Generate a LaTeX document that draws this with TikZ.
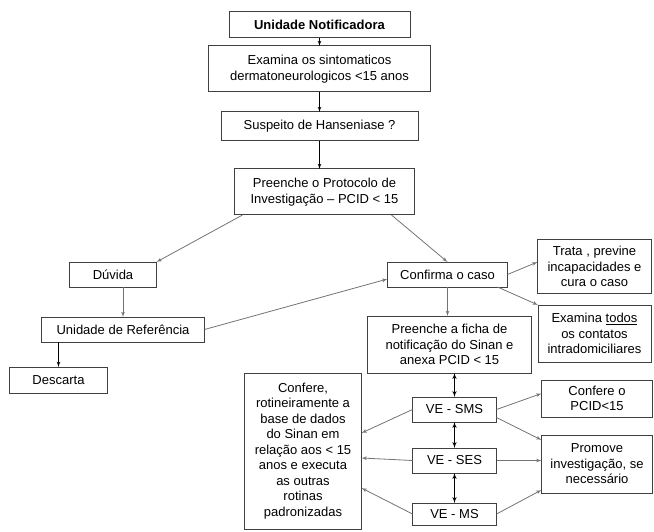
\documentclass[tikz,border=0pt]{standalone}
\usepackage{fontspec}
\setmainfont{Liberation Sans}
\usetikzlibrary{arrows, positioning}

\begin{document}
\begin{tikzpicture}[>=latex', font=\fontsize{13}{15.5}\selectfont]
		\tikzset{
			block/.style= {draw=black!75, line width=1pt, outer sep=0pt, rectangle, fill=white, align=center, inner sep=2pt},
			arr/.style  = {draw=black, line width=0.8pt, ->},
			link/.style = {draw=black!55, line width=0.8pt, ->},
			dlink/.style = {draw=black, line width=1pt, <->},
		}
		\useasboundingbox (0,0) rectangle (654pt,-532pt);

		%nodes
		\node (n1) [block, minimum width=181pt, minimum height=26pt] at (319.5pt,-25pt)
					{\textbf{Unidade Notificadora}};
		\node (n2) [block, below=8pt of n1, minimum width=222pt, minimum height=46pt]
					{Examina os sintomaticos\\ dermatoneurologicos <15 anos};
		\node (n3) [block, below=20pt of n2, minimum width=197pt, minimum height=29pt]
					{Suspeito de Hanseniase ?};
		\node (n4) [block, below=28pt of n3, xshift=5pt, minimum width=180pt, minimum height=46pt]
					{Preenche o Protocolo de\\ Investigação -- PCID < 15};
		\node (n5) [block, below left=47pt and 78pt of n4, minimum width=87pt, minimum height=25pt]
					{Dúvida};
		\node (n6) [block, below=30pt of n5, xshift=10pt, minimum width=163pt, minimum height=25pt]
					{Unidade de Referência};
		\node (n7) [block, below=25pt of n6, xshift=-64.5pt, minimum width=98pt, minimum height=26pt]
					{Descarta};
		\node (n8) [block, right=231pt of n5, minimum width=120pt, minimum height=25pt]
					{Confirma o caso};
		\node (n9) [block, right=30pt of n8, yshift=8pt, minimum width=114pt, minimum height=53pt]
					{Trata , previne\\ incapacidades e\\ cura o caso};
		\node (n10) [block, below=12pt of n9, minimum width=113pt, minimum height=57pt]
					{Examina \underline{todos}\\ os contatos\\ intradomiciliares};
		\node (n11) [block, below=29pt of n8, xshift=2pt, minimum width=164pt, minimum height=57pt]
					{Preenche a ficha de\\ notificação do Sinan e\\ anexa PCID < 15};
		\node (n13) [block, below=24pt of n11, xshift=5pt, minimum width=84pt, minimum height=25pt]
					{VE - SMS};
		\node (n14) [block, below=26pt of n13, minimum width=84pt, minimum height=25pt]
					{VE - SES};
		\node (n15) [block, below=30pt of n14, minimum width=84pt, minimum height=22pt]
					{VE - MS};
		\node (n12) [block, left=51pt of n14, yshift=9.5pt, minimum width=117pt, minimum height=156pt]
					{Confere,\\ rotineiramente a\\ base de dados\\ do Sinan em\\ relação aos < 15\\
					anos e executa\\ as outras\\ rotinas\\ padronizadas};
		\node (n16) [block, right=45pt of n13, yshift=11pt, minimum width=111pt, minimum height=37pt]
					{Confere o\\ PCID<15};
		\node (n17) [block, below=18pt of n16, minimum width=111pt, minimum height=58pt]
					{Promove\\ investigação, se\\ necessário};

		%connectors
		\path (n1) edge[arr] (n2)
					(n2) edge[arr] (n3)
					(n3) edge[arr] (n3.south |- n4.north)
					(n6.south -| n7.north) edge[arr] (n7.north);
		\path ([xshift=8pt]n4.south west) edge[link] (n5.north east)
					([xshift=-23pt]n4.south east) edge[link] (n8.north)
					(n5.south -| n6.north) edge[link] (n6.north)
					(n6.east) edge[link] ([yshift=-4.5pt]n8.west)
					(n8.east) edge[link] ([yshift=4.5pt]n9.west)
					([xshift=-10pt]n8.south east) edge[link] (n10.north west)
					(n8.south) edge[link] (n8.south |- n11.north)
					(n13.west) edge[link] ([yshift=18pt]n12.east)
					(n14.west) edge[link] ([yshift=-7pt]n12.east)
					(n15.west) edge[link] ([yshift=-37pt]n12.east)
					(n13.east) edge[link] ([yshift=5pt]n16.west)
					([yshift=-8pt]n13.east) edge[link] ([yshift=24pt]n17.west)
					(n14.east) edge[link] (n14.east -| n17.west)
					(n15.east) edge[link] ([yshift=-26pt]n17.west);
		\path (n11.south -| n13.north) edge[dlink] (n13.north)
					(n13) edge[dlink] (n14)
					(n14) edge[dlink] (n15);

	\end{tikzpicture}
\end{document}
